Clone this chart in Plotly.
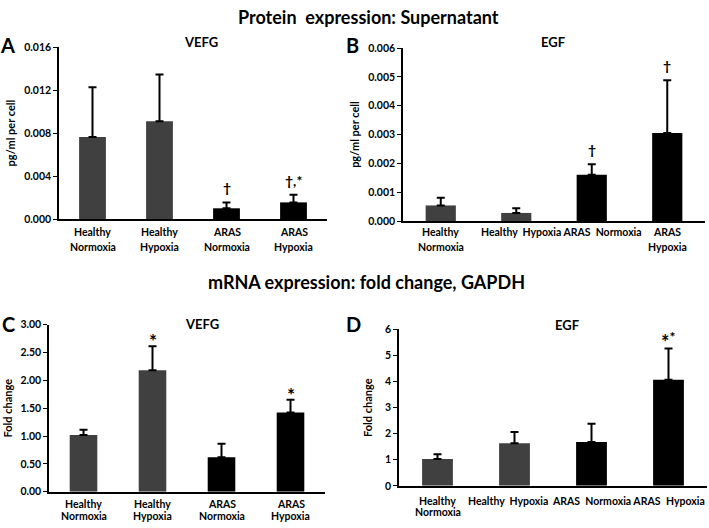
import plotly.graph_objects as go

# ---- data ----
groups = ["Healthy Normoxia", "Healthy Hypoxia", "ARAS Normoxia", "ARAS Hypoxia"]
bar_colors = ["#404040", "#404040", "#000000", "#000000"]

a_vegf_mean = [0.00764, 0.00909, 0.00100, 0.00155]
a_vegf_err = [0.00463, 0.00436, 0.00055, 0.00072]

b_egf_mean = [0.00054, 0.00028, 0.00160, 0.00305]
b_egf_err = [0.00027, 0.00016, 0.00037, 0.00183]

c_vegf_mean = [1.02, 2.18, 0.62, 1.42]
c_vegf_err = [0.09, 0.43, 0.24, 0.23]

d_egf_mean = [1.03, 1.63, 1.68, 4.07]
d_egf_err = [0.18, 0.44, 0.70, 1.20]

label_line1 = ["Healthy", "Healthy", "ARAS", "ARAS"]
label_line2 = ["Normoxia", "Hypoxia", "Normoxia", "Hypoxia"]

FONT = "Lato, 'Open Sans', Arial, sans-serif"

fig = go.Figure()

panels = [
    ("x", "y", a_vegf_mean, a_vegf_err),
    ("x2", "y2", b_egf_mean, b_egf_err),
    ("x3", "y3", c_vegf_mean, c_vegf_err),
    ("x4", "y4", d_egf_mean, d_egf_err),
]
for xa, ya, mean, err in panels:
    fig.add_trace(go.Bar(
        x=groups, y=mean, xaxis=xa, yaxis=ya, width=0.4,
        marker=dict(color=bar_colors, line=dict(width=0)),
        error_y=dict(type="data", symmetric=False, array=err,
                     arrayminus=[0] * len(err), color="#000000",
                     thickness=2, width=4),
        showlegend=False, hoverinfo="skip",
    ))

W, H = 709, 528
def px(x0, x1):
    return [x0 / W, x1 / W]
def py(ytop, ybot):
    return [1 - ybot / H, 1 - ytop / H]

tickfont = dict(family=FONT, size=10.5, color="#000000", weight="bold")
xcommon = dict(type="category", categoryorder="array", categoryarray=groups,
               range=[-0.5, 3.5], showline=True, linecolor="#000000", linewidth=2,
               ticks="", showgrid=False, zeroline=False, showticklabels=False,
               fixedrange=True)
ycommon = dict(showline=True, linecolor="#000000", linewidth=1.5, ticks="outside",
               ticklen=4, tickwidth=1, tickcolor="#000000", showgrid=False,
               zeroline=False, tickfont=tickfont)
ytitle_font = dict(family=FONT, size=11, color="#000000", weight="bold")

fig.update_layout(
    width=W, height=H, margin=dict(l=0, r=0, t=0, b=0),
    plot_bgcolor="white", paper_bgcolor="white",
    font=dict(family=FONT, color="#000000"),
    xaxis=dict(domain=px(59, 327), anchor="y", **xcommon),
    yaxis=dict(domain=py(42, 218), anchor="x", range=[0, 0.016], dtick=0.004,
               tickformat=".3f", title=dict(text="pg/ml per cell", font=ytitle_font, standoff=6),
               **ycommon),
    xaxis2=dict(domain=px(403, 705), anchor="y2", **xcommon),
    yaxis2=dict(domain=py(43, 220), anchor="x2", range=[0, 0.006], dtick=0.001,
                tickformat=".3f", title=dict(text="pg/ml per cell", font=ytitle_font, standoff=6),
                **ycommon),
    xaxis3=dict(domain=px(49, 325), anchor="y3", **xcommon),
    yaxis3=dict(domain=py(326, 497), anchor="x3", range=[0, 3], dtick=0.5,
                tickformat=".2f", title=dict(text="Fold change", font=ytitle_font, standoff=6),
                **ycommon),
    xaxis4=dict(domain=px(399, 707), anchor="y4", **xcommon),
    yaxis4=dict(domain=py(331, 491), anchor="x4", range=[0, 6], dtick=1,
                title=dict(text="Fold change", font=ytitle_font, standoff=10),
                **ycommon),
)

ann = []
def paper_text(text, x, y, size, xanchor="center"):
    ann.append(dict(text=text, x=x / W, y=1 - y / H, xref="paper", yref="paper",
                    xanchor=xanchor, yanchor="middle", showarrow=False,
                    font=dict(family=FONT, size=size, color="#000000", weight="bold")))

# main titles
paper_text("Protein  expression: Supernatant", 368, 11, 18)
paper_text("mRNA expression: fold change, GAPDH", 366, 282, 18)
# panel letters
paper_text("A", 7, 40, 20)
paper_text("B", 352, 40, 20)
paper_text("C", 8, 325, 20)
paper_text("D", 353, 325, 20)
# subplot titles
paper_text("VEFG", 201, 37, 13)
paper_text("EGF", 553, 37, 13)
paper_text("VEFG", 202, 325, 13)
paper_text("EGF", 567, 326, 13)

def data_text(text, xref, yref, x, y, yshift, size=13):
    ann.append(dict(text=text, x=x, y=y, xref=xref, yref=yref, xanchor="center",
                    yanchor="bottom", yshift=yshift, showarrow=False,
                    font=dict(family=FONT, size=size, color="#000000", weight="bold")))

def top(mean, err, i):
    return mean[i] + err[i]

# significance marks
data_text("†", "x", "y", 2, top(a_vegf_mean, a_vegf_err, 2), 4, 14)
data_text("†,*", "x", "y", 3, top(a_vegf_mean, a_vegf_err, 3), 4, 14)
data_text("†", "x2", "y2", 2, top(b_egf_mean, b_egf_err, 2), 4, 14)
data_text("†", "x2", "y2", 3, top(b_egf_mean, b_egf_err, 3), 4, 14)
data_text("*", "x3", "y3", 1, top(c_vegf_mean, c_vegf_err, 1), -8, 19)
data_text("*", "x3", "y3", 3, top(c_vegf_mean, c_vegf_err, 3), -8, 19)
data_text("*<sup>*</sup>", "x4", "y4", 3, top(d_egf_mean, d_egf_err, 3), -8, 20)

# category labels
def axis_label(text, xref, x, y, xanchor="center", xpaper=False):
    ann.append(dict(text=text, x=(x / W if xpaper else x), y=1 - y / H,
                    xref=("paper" if xpaper else xref), yref="paper",
                    xanchor=xanchor, yanchor="middle", showarrow=False,
                    font=dict(family=FONT, size=10.5, color="#000000", weight="bold")))

for i in range(4):
    axis_label(label_line1[i], "x", i, 231)
    axis_label(label_line2[i], "x", i, 247)
    axis_label(label_line1[i], "x3", i, 510)
    axis_label(label_line2[i], "x3", i, 522)

# irregular label layout of panels B and D
axis_label(label_line1[0], "x2", 0, 231)
axis_label(label_line2[0], "x2", 0, 247)
axis_label("Healthy  Hypoxia ARAS  Normoxia", "x2", 1.6, 231)
axis_label(label_line1[3], "x2", 3, 231)
axis_label(label_line2[3], "x2", 3, 247)

axis_label(label_line1[0], "x4", 0, 506)
axis_label(label_line2[0], "x4", 0, 518)
axis_label("Healthy  Hypoxia  ARAS  Normoxia ARAS", "x4", 1.65, 506)
axis_label(label_line2[3], "x4", 707, 506, xanchor="right", xpaper=True)

fig.update_layout(annotations=ann)
fig.write_html("out.html", config={"displayModeBar": False},
               post_script="document.body.style.margin='0';document.body.style.overflow='hidden';")
